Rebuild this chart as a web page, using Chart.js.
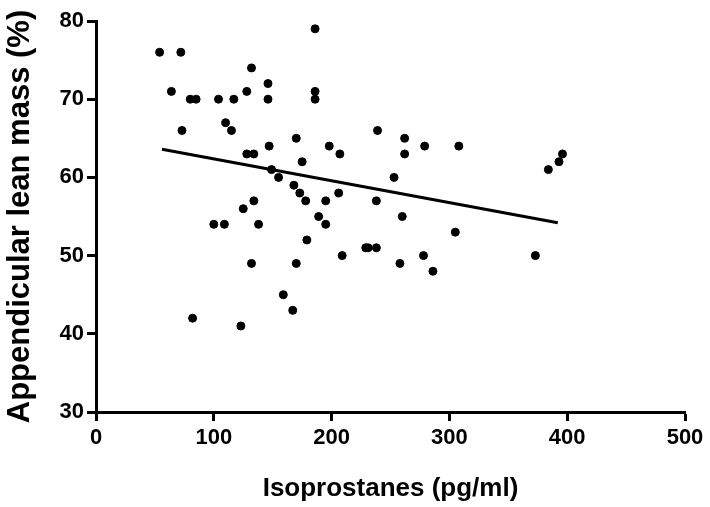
<!DOCTYPE html>
<html>
<head>
<meta charset="utf-8">
<script src="https://cdn.jsdelivr.net/npm/chart.js@4"></script>
<style>
  html, body { margin: 0; padding: 0; background: #fff; }
  #wrap { width: 710px; height: 507px; position: relative; }
</style>
</head>
<body>
<div id="wrap"><canvas id="scatterChart"></canvas></div>
<script>
// Isoprostanes (pg/ml) vs appendicular lean mass (%)
const isoprostanes = [
  54, 72, 64, 80, 85, 73, 104, 117, 128, 132, 146, 146, 110, 115,
  186, 186, 186, 170, 147, 128, 134, 175, 149, 155, 168, 173, 178, 134,
  125, 100, 109, 138, 179, 132, 170, 159, 167, 82, 123,
  239, 262, 198, 207, 262, 253, 195, 206, 238, 189, 195, 260,
  229, 231, 238, 209, 258, 279, 308, 396, 393, 384, 305, 278, 286, 373
];
const leanMass = [
  76, 76, 71, 70, 70, 66, 70, 70, 71, 74, 72, 70, 67, 66,
  79, 71, 70, 65, 64, 63, 63, 62, 61, 60, 59, 58, 57, 57,
  56, 54, 54, 54, 52, 49, 49, 45, 43, 42, 41,
  66, 65, 64, 63, 63, 60, 57, 58, 57, 55, 54, 55,
  51, 51, 51, 50, 49, 64, 64, 63, 62, 61, 53, 50, 48, 50
];
// fitted line, read at its two ends
const fitX = [56, 392];
const fitY = [63.6, 54.2];

const xTicks = [0, 100, 200, 300, 400, 500];
const yTicks = [30, 40, 50, 60, 70, 80];

const points = isoprostanes.map((x, i) => ({ x: x, y: leanMass[i] }));
const fitLine = fitX.map((x, i) => ({ x: x, y: fitY[i] }));

const tickFont = { family: '"Liberation Sans", Arial, sans-serif', size: 22, weight: 'bold' };
const xTitleFont = { family: '"Liberation Sans", Arial, sans-serif', size: 26, weight: 'bold' };
const yTitleFont = { family: '"Liberation Sans", Arial, sans-serif', size: 31, weight: 'bold' };

const pad = { top: 21, right: 25, left: 2, bottom: 1 };

new Chart(document.getElementById('scatterChart'), {
  type: 'scatter',
  data: {
    datasets: [
      {
        label: 'subjects',
        data: points,
        backgroundColor: '#000',
        borderColor: '#000',
        pointRadius: 4,
        pointHoverRadius: 4
      },
      {
        type: 'line',
        label: 'fit',
        data: fitLine,
        borderColor: '#000',
        borderWidth: 3,
        pointRadius: 0,
        fill: false
      }
    ]
  },
  options: {
    responsive: true,
    maintainAspectRatio: false,
    animation: false,
    layout: { padding: pad },
    plugins: { legend: { display: false }, tooltip: { enabled: false } },
    scales: {
      x: {
        type: 'linear',
        min: 0,
        max: 500,
        afterBuildTicks: scale => { scale.ticks = xTicks.map(v => ({ value: v })); },
        afterFit: scale => { scale.height = 507 - 412 - pad.bottom; },
        ticks: { color: '#000', font: tickFont, padding: 4, maxRotation: 0 },
        grid: { drawOnChartArea: false, drawTicks: true, tickLength: 9, tickWidth: 3, tickColor: '#000' },
        border: { display: true, width: 3, color: '#000' },
        title: { display: true, text: 'Isoprostanes (pg/ml)', color: '#000', font: xTitleFont, padding: { top: 4, bottom: 2 } }
      },
      y: {
        type: 'linear',
        min: 30,
        max: 80,
        afterBuildTicks: scale => { scale.ticks = yTicks.map(v => ({ value: v })); },
        afterFit: scale => { scale.width = 96 - pad.left; },
        ticks: { color: '#000', font: tickFont, padding: 3 },
        grid: { drawOnChartArea: false, drawTicks: true, tickLength: 9, tickWidth: 3, tickColor: '#000' },
        border: { display: true, width: 3, color: '#000' },
        title: { display: true, text: 'Appendicular lean mass (%)', color: '#000', font: yTitleFont, padding: { top: 0, bottom: 2 } }
      }
    }
  }
});
</script>
</body>
</html>
